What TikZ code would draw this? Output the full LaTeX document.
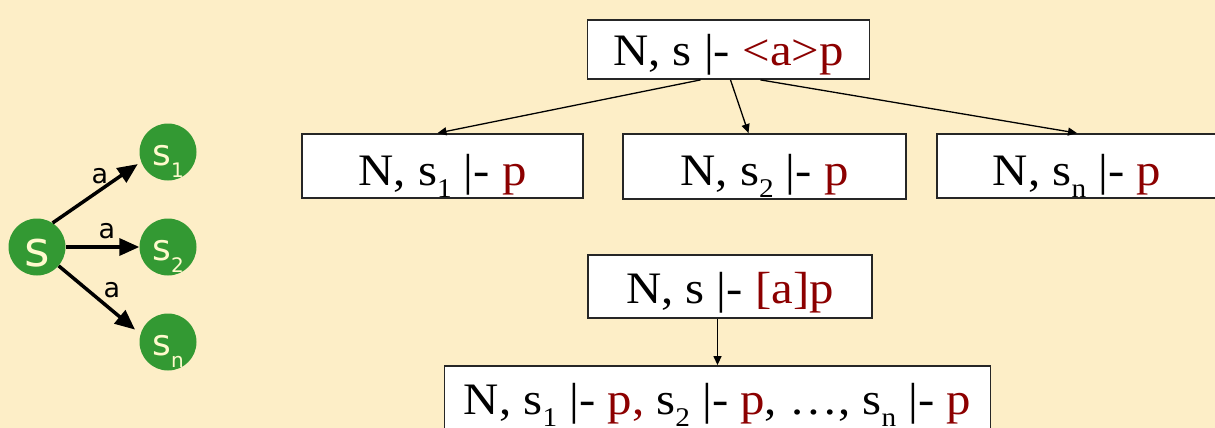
\documentclass[tikz,border=0pt]{standalone}
\usepackage{fontspec}
\setmainfont{Liberation Serif}[FakeStretch=1.085]
\newfontfamily\gsans{DejaVu Sans}
\usetikzlibrary{arrows.meta,calc}
\definecolor{bg}{RGB}{253,238,199}
\definecolor{dred}{RGB}{140,0,0}
\definecolor{gr}{RGB}{51,153,51}
\definecolor{cream}{RGB}{255,250,205}
\newcommand\lsub[1]{\raisebox{-12pt}{\fontsize{27}{27}\selectfont #1}}
\newcommand\gsub[1]{\raisebox{-12pt}{\fontsize{20}{20}\selectfont #1}}
\newcommand\rd[1]{\textcolor{dred}{#1}}
\tikzset{
  tbox/.style={draw=black!85, line width=1.8pt, fill=white, inner sep=0pt,
    font=\fontsize{45}{48}\selectfont, text height=43pt, text depth=10pt},
  lowbase/.style={text height=46pt, text depth=8pt},
  tarrow/.style={-{Triangle[length=9pt,width=8pt]}, line width=1.3pt},
  garrow/.style={-{Triangle[length=20pt,width=17pt]}, line width=3.5pt},
  gnode/.style={circle, fill=gr, minimum size=57pt, inner sep=0pt, text=cream},
  subnode/.style={gnode, font=\gsans\fontsize{36}{36}\selectfont, text height=28pt, text depth=2pt},
  glabel/.style={inner sep=0pt, font=\gsans\fontsize{27}{27}\selectfont}
}
\begin{document}
\begin{tikzpicture}[x=1pt,y=-1pt]
\useasboundingbox (0,0) rectangle (1215,428);
\clip (0,0) rectangle (1215,428);
\fill[bg] (0,0) rectangle (1215,428);

% left transition graph
\node[gnode, font=\gsans\fontsize{49}{49}\selectfont, text height=40pt, text depth=2pt] (s) at (37,247) {s};
\node[subnode] (s1) at (168,152) {s\gsub{1}};
\node[subnode] (s2) at (168,247) {s\gsub{2}};
\node[subnode] (sn) at (168,342) {s\gsub{n}};
\draw[garrow, shorten >=4pt] (s.57) -- (s1.200);
\draw[garrow] (s.east) -- (s2.west);
\draw[garrow, shorten >=7pt] (s.-41) -- (sn.164);
\node[glabel] (la1) at (100,176) {a};
\node[glabel] (la2) at (107,231) {a};
\node[glabel] (la3) at (112,290) {a};

% diamond rule
\node[tbox, minimum width=282pt, minimum height=59pt] (top) at (728.5,49.5) {N, s |- \rd{<a>p}};
\node[tbox, lowbase, minimum width=281pt, minimum height=64pt] (b1) at (442.5,166) {N, s\lsub{1} |- \rd{p}};
\node[tbox, lowbase, minimum width=283pt, minimum height=65pt] (b2) at (764.5,166.5) {N, s\lsub{2} |- \rd{p}};
\node[tbox, lowbase, minimum width=280pt, minimum height=64pt] (b3) at (1077,166) {N, s\lsub{n} |- \rd{p}};
\draw[tarrow] ([xshift=-28pt]top.south) -- ([xshift=-5pt]b1.north);
\draw[tarrow] ([xshift=2pt]top.south) -- ([xshift=-16pt]b2.north);
\draw[tarrow] ([xshift=32pt]top.south) -- (b3.north);

% box rule
\node[tbox, minimum width=284pt, minimum height=63pt] (box) at (730,286.5) {N, s |- \rd{[a]p}};
\node[tbox, minimum width=546pt, minimum height=64pt] (bottom) at (717.5,398) {N, s\lsub{1} |- \rd{p,} s\lsub{2} |- \rd{p}, …, s\lsub{n} |- \rd{p}};
\draw[tarrow] (box.south -| bottom.north) -- (bottom.north);
\end{tikzpicture}
\end{document}
